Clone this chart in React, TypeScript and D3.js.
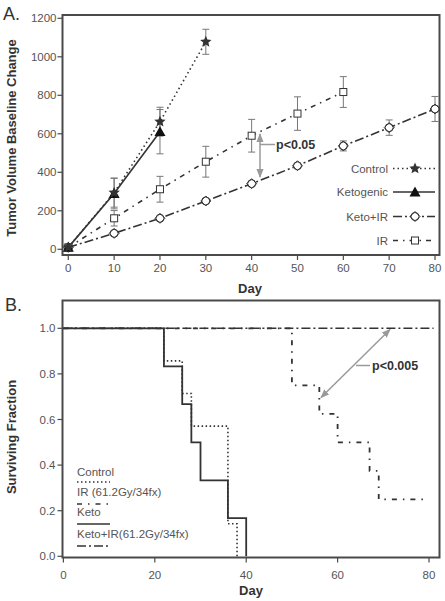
import React from "react";
import * as d3 from "d3";

// ---------- Panel A data ----------
const controlDays = [0, 10, 20, 30];
const controlVals = [10, 294, 663, 1078];
const controlErr = [5, 75, 75, 65];

const ketoDays = [0, 10, 20];
const ketoVals = [10, 290, 611];
const ketoErr = [5, 80, 115];

const ketoIRDays = [0, 10, 20, 30, 40, 50, 60, 70, 80];
const ketoIRVals = [10, 83, 161, 251, 341, 434, 537, 632, 729];
const ketoIRErr = [3, 8, 10, 10, 10, 12, 26, 40, 65];

const irDays = [0, 10, 20, 30, 40, 50, 60];
const irVals = [10, 161, 312, 455, 590, 705, 817];
const irErr = [5, 40, 67, 80, 85, 87, 80];

const yTicksA = [0, 200, 400, 600, 800, 1000, 1200];
const xTicksA = [0, 10, 20, 30, 40, 50, 60, 70, 80];

// ---------- Panel B data ----------
const ctrlSurvT = [0, 22, 26, 28, 36, 38];
const ctrlSurvS = [1, 0.857, 0.714, 0.571, 0.143, 0];
const ketoSurvT = [0, 22, 26, 28, 30, 36, 40];
const ketoSurvS = [1, 0.833, 0.667, 0.5, 0.333, 0.167, 0];
const irSurvT = [0, 50, 56, 60, 67, 69, 79];
const irSurvS = [1, 0.75, 0.625, 0.5, 0.375, 0.25, 0.25];
const ketoIRSurvT = [0, 81];
const ketoIRSurvS = [1, 1];

const yTicksB = [0, 0.2, 0.4, 0.6, 0.8, 1.0];
const xTicksB = [0, 20, 40, 60, 80];

const FONT = "'Liberation Sans', Arial, sans-serif";
const DARK = "#333";
const FRAME = "#4a4a4a";
const TICKTXT = "#555";
const GRAY = "#9a9a9a";

const DASH = {
  control: "1.5,3",
  keto: "none",
  ketoIR: "9,3,2,3",
  ir: "5,5,1.5,5",
};

function Star({ x, y, r = 6 }: { x: number; y: number; r?: number }) {
  const pts: string[] = [];
  for (let i = 0; i < 10; i++) {
    const a = -Math.PI / 2 + (i * Math.PI) / 5;
    const rr = i % 2 === 0 ? r : r * 0.45;
    pts.push(`${x + rr * Math.cos(a)},${y + rr * Math.sin(a)}`);
  }
  return <polygon points={pts.join(" ")} fill="#333" />;
}
function Tri({ x, y, r = 5.5 }: { x: number; y: number; r?: number }) {
  return <polygon points={`${x},${y - r} ${x + r},${y + r * 0.8} ${x - r},${y + r * 0.8}`} fill="#111" />;
}
function Diam({ x, y }: { x: number; y: number }) {
  return (
    <g fill="#fff" stroke="#333" strokeWidth={1}>
      <circle cx={x} cy={y} r={4} />
      <polygon points={`${x},${y - 5} ${x + 5},${y} ${x},${y + 5} ${x - 5},${y}`} fill="none" />
    </g>
  );
}
function Sq({ x, y }: { x: number; y: number }) {
  return <rect x={x - 3.5} y={y - 3.5} width={7} height={7} fill="#fff" stroke="#333" strokeWidth={1} />;
}

export default function App() {
  // Panel A scales
  const xA = d3.scaleLinear().domain([0, 80]).range([68.3, 435]);
  const yA = d3.scaleLinear().domain([0, 1200]).range([249.3, 18.3]);
  const frameA = { l: 62.5, t: 15, r: 439.5, b: 255 };

  // Panel B scales
  const xB = d3.scaleLinear().domain([0, 80]).range([63.4, 429]);
  const yB = d3.scaleLinear().domain([0, 1]).range([556.3, 328.3]);
  const frameB = { l: 62.5, t: 300.5, r: 439.5, b: 557.5 };

  const lineA = (xs: number[], ys: number[]) =>
    d3.line<number>().x((_, i) => xA(xs[i])).y((d) => yA(d))(ys) || "";
  const lineB = (xs: number[], ys: number[]) =>
    d3.line<number>().x((_, i) => xB(xs[i])).y((d) => yB(d)).curve(d3.curveStepAfter)(ys) || "";

  const errBars = (xs: number[], ys: number[], es: number[], key: string) =>
    xs.map((dx, i) => {
      if (es[i] < 12) return null;
      const x = xA(dx);
      const y1 = yA(ys[i] + es[i]);
      const y2 = yA(ys[i] - es[i]);
      return (
        <g key={key + i} stroke="#777" strokeWidth={1}>
          <line x1={x} x2={x} y1={y1} y2={y2} />
          <line x1={x - 3.5} x2={x + 3.5} y1={y1} y2={y1} />
          <line x1={x - 3.5} x2={x + 3.5} y1={y2} y2={y2} />
        </g>
      );
    });

  const legendA = [
    { label: "Control", dash: DASH.control, mk: "star", y: 168.5 },
    { label: "Ketogenic", dash: DASH.keto, mk: "tri", y: 192 },
    { label: "Keto+IR", dash: DASH.ketoIR, mk: "diam", y: 216.5 },
    { label: "IR", dash: DASH.ir, mk: "sq", y: 240.5 },
  ];

  const legendB = [
    { label: "Control", dash: "1.5,2.5", y: 476, ly: 482 },
    { label: "IR (61.2Gy/34fx)", dash: "5,6,1.5,6", y: 496, ly: 504 },
    { label: "Keto", dash: "none", y: 516, ly: 524 },
    { label: "Keto+IR(61.2Gy/34fx)", dash: "9,3,2,3", y: 538, ly: 546 },
  ];

  const arrowP1 = { x: 390, y: 329.5 };
  const arrowP2 = { x: 321, y: 397.5 };

  return (
    <svg width={445} height={601} style={{ position: "absolute", left: 0, top: 0, background: "#fff" }} fontFamily={FONT}>
      <defs>
        <marker id="ah" viewBox="0 0 10 10" refX={9} refY={5} markerWidth={6} markerHeight={6} orient="auto-start-reverse">
          <path d="M0,1 L10,5 L0,9 z" fill={GRAY} />
        </marker>
      </defs>

      {/* ================= Panel A ================= */}
      <text x={3} y={20} fontSize={18} fill={DARK}>A.</text>
      <rect x={frameA.l} y={frameA.t} width={frameA.r - frameA.l} height={frameA.b - frameA.t} fill="none" stroke={FRAME} strokeWidth={2} />
      {yTicksA.map((t) => (
        <g key={"ya" + t}>
          <line x1={frameA.l - 5} x2={frameA.l} y1={yA(t)} y2={yA(t)} stroke={FRAME} strokeWidth={1.2} />
          <text x={frameA.l - 6} y={yA(t)} dy="0.35em" textAnchor="end" fontSize={11.5} fill={TICKTXT}>{t}</text>
        </g>
      ))}
      {xTicksA.map((t) => (
        <g key={"xa" + t}>
          <line x1={xA(t)} x2={xA(t)} y1={frameA.b} y2={frameA.b + 5} stroke={FRAME} strokeWidth={1.2} />
          <text x={xA(t)} y={frameA.b + 17} textAnchor="middle" fontSize={11.5} fill={TICKTXT}>{t}</text>
        </g>
      ))}
      <text x={250} y={293} textAnchor="middle" fontSize={13} fontWeight="bold" fill={DARK}>Day</text>
      <text transform="translate(16,138) rotate(-90)" textAnchor="middle" fontSize={13} fontWeight="bold" fill={DARK}>
        Tumor Volume Baseline Change
      </text>

      {errBars(irDays, irVals, irErr, "ir")}
      {errBars(ketoIRDays, ketoIRVals, ketoIRErr, "kir")}
      {errBars(controlDays, controlVals, controlErr, "c")}
      {errBars(ketoDays, ketoVals, ketoErr, "k")}

      <path d={lineA(irDays, irVals)} fill="none" stroke={DARK} strokeWidth={1.6} strokeDasharray={DASH.ir} />
      <path d={lineA(ketoIRDays, ketoIRVals)} fill="none" stroke={DARK} strokeWidth={1.6} strokeDasharray={DASH.ketoIR} />
      <path d={lineA(controlDays, controlVals)} fill="none" stroke={DARK} strokeWidth={1.6} strokeDasharray={DASH.control} />
      <path d={lineA(ketoDays, ketoVals)} fill="none" stroke={DARK} strokeWidth={1.6} />

      {irDays.map((d, i) => <Sq key={"sq" + i} x={xA(d)} y={yA(irVals[i])} />)}
      {ketoIRDays.map((d, i) => <Diam key={"di" + i} x={xA(d)} y={yA(ketoIRVals[i])} />)}
      {ketoDays.map((d, i) => <Tri key={"tr" + i} x={xA(d)} y={yA(ketoVals[i])} />)}
      {controlDays.map((d, i) => <Star key={"st" + i} x={xA(d)} y={yA(controlVals[i])} />)}

      {/* p<0.05 annotation */}
      <line x1={260} x2={260} y1={134} y2={177} stroke={GRAY} strokeWidth={1.5} markerStart="url(#ah)" markerEnd="url(#ah)" />
      <line x1={260} x2={275} y1={144.5} y2={144.5} stroke={GRAY} strokeWidth={1.5} />
      <text x={276} y={149} fontSize={12.5} fontWeight="bold" fill={DARK}>p&lt;0.05</text>

      {legendA.map((l) => (
        <g key={l.label}>
          <text x={388} y={l.y} dy="0.35em" textAnchor="end" fontSize={11.5} fill={TICKTXT}>{l.label}</text>
          <line x1={393} x2={435} y1={l.y} y2={l.y} stroke={DARK} strokeWidth={1.6} strokeDasharray={l.dash === "none" ? undefined : l.dash} />
          {l.mk === "star" && <Star x={415} y={l.y} />}
          {l.mk === "tri" && <Tri x={415} y={l.y} />}
          {l.mk === "diam" && <Diam x={415} y={l.y} />}
          {l.mk === "sq" && <Sq x={415} y={l.y} />}
        </g>
      ))}

      {/* ================= Panel B ================= */}
      <text x={5} y={311} fontSize={18} fill={DARK}>B.</text>
      <rect x={frameB.l} y={frameB.t} width={frameB.r - frameB.l} height={frameB.b - frameB.t} fill="none" stroke={FRAME} strokeWidth={2} />
      {yTicksB.map((t) => (
        <g key={"yb" + t}>
          <line x1={frameB.l - 5} x2={frameB.l} y1={yB(t)} y2={yB(t)} stroke={FRAME} strokeWidth={1.2} />
          <text x={frameB.l - 7} y={yB(t)} dy="0.35em" textAnchor="end" fontSize={11.5} fill={TICKTXT}>{t.toFixed(1)}</text>
        </g>
      ))}
      {xTicksB.map((t) => (
        <g key={"xb" + t}>
          <line x1={xB(t)} x2={xB(t)} y1={frameB.b} y2={frameB.b + 5} stroke={FRAME} strokeWidth={1.2} />
          <text x={xB(t)} y={frameB.b + 21} textAnchor="middle" fontSize={11.5} fill={TICKTXT}>{t}</text>
        </g>
      ))}
      <text x={251} y={595} textAnchor="middle" fontSize={13} fontWeight="bold" fill={DARK}>Day</text>
      <text transform="translate(16,437) rotate(-90)" textAnchor="middle" fontSize={13} fontWeight="bold" fill={DARK}>
        Surviving Fraction
      </text>

      <path d={lineB(ketoIRSurvT, ketoIRSurvS)} fill="none" stroke={DARK} strokeWidth={1.6} strokeDasharray="9,3,2,3" />
      <path d={lineB(irSurvT, irSurvS)} fill="none" stroke={DARK} strokeWidth={1.8} strokeDasharray="5,6,1.5,6" />
      <path d={lineB(ctrlSurvT, ctrlSurvS)} fill="none" stroke={DARK} strokeWidth={1.6} strokeDasharray="1.5,2.5" />
      <path d={lineB(ketoSurvT, ketoSurvS)} fill="none" stroke={DARK} strokeWidth={1.8} />

      {/* p<0.005 annotation */}
      <line x1={arrowP2.x} y1={arrowP2.y} x2={arrowP1.x} y2={arrowP1.y} stroke={GRAY} strokeWidth={1.5} markerStart="url(#ah)" markerEnd="url(#ah)" />
      <line x1={356} x2={370} y1={365.5} y2={365.5} stroke={GRAY} strokeWidth={1.5} />
      <text x={372} y={370} fontSize={12.5} fontWeight="bold" fill={DARK}>p&lt;0.005</text>

      {legendB.map((l) => (
        <g key={l.label}>
          <text x={77} y={l.y} fontSize={11.5} fill={TICKTXT}>{l.label}</text>
          <line x1={77} x2={110} y1={l.ly} y2={l.ly} stroke={DARK} strokeWidth={1.6} strokeDasharray={l.dash === "none" ? undefined : l.dash} />
        </g>
      ))}
    </svg>
  );
}
